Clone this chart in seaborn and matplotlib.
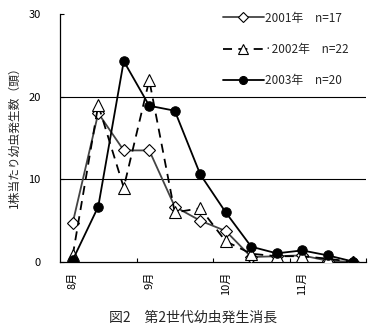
import matplotlib
matplotlib.use("Agg")
import matplotlib.pyplot as plt
import seaborn as sns
import numpy as np
import pandas as pd

# Survey dates: 12 observations (roughly every ten days from early August)
obs = list(range(12))
month_labels = ["8月", "9月", "10月", "11月"]
month_label_pos = [0, 3, 6, 9]

y2001 = [4.75, 18.0, 13.5, 13.5, 6.7, 5.0, 3.75, 0.6, 0.7, 0.8, 0.15, 0.0]
y2002 = [0.8, 19.0, 9.0, 22.0, 6.0, 6.5, 2.5, 1.0, 0.7, 0.7, 0.4, 0.0]
y2003 = [0.25, 6.7, 24.3, 18.9, 18.3, 10.6, 6.0, 1.85, 1.05, 1.4, 0.8, 0.05]

series_labels = ["2001年\u3000n=17", "·2002年\u3000n=22", "2003年\u3000n=20"]

sns.set_theme(style="white")
plt.rcParams["font.family"] = ["Noto Sans CJK JP", "DejaVu Sans"]

fig = plt.figure(figsize=(3.77, 3.30), dpi=100)
ax = fig.add_axes([60 / 377, 1 - 262 / 330, 306 / 377, 248 / 330])

# horizontal reference lines
for g in (10, 20):
    ax.axhline(g, color="black", lw=0.8, zorder=0)

sns.lineplot(x=obs, y=y2001, ax=ax, color="#444444", lw=1.3,
             marker="D", markersize=6.3, markerfacecolor="white",
             markeredgecolor="black", markeredgewidth=0.8,
             label=series_labels[0], zorder=3)
sns.lineplot(x=obs, y=y2002, ax=ax, color="black", lw=1.3,
             linestyle=(0, (5, 3.5)),
             marker="^", markersize=8, markerfacecolor="white",
             markeredgecolor="black", markeredgewidth=0.8,
             label=series_labels[1], zorder=4)
sns.lineplot(x=obs, y=y2003, ax=ax, color="black", lw=1.3,
             marker="o", markersize=6.8, markerfacecolor="black",
             markeredgecolor="black",
             label=series_labels[2], zorder=5)

ax.set_xlim(-0.5, 11.5)
ax.set_ylim(0, 30)
ax.set_yticks([0, 10, 20, 30])
ax.set_yticklabels(["0", "10", "20", "30"], fontsize=8)
ax.tick_params(axis="y", direction="in", length=3, width=0.8, pad=14,
               left=True, colors="black")

ax.set_xticks(month_label_pos)
ax.set_xticklabels(month_labels, rotation=90, fontsize=8)
ax.tick_params(axis="x", which="major", length=0, pad=7, colors="black")
ax.set_xticks([2.5, 5.5, 8.5, 11.5], minor=True)
ax.tick_params(axis="x", which="minor", direction="in", length=3,
               width=0.8, bottom=True, colors="black")

for side in ("top", "right"):
    ax.spines[side].set_visible(False)
for side in ("left", "bottom"):
    ax.spines[side].set_color("black")
    ax.spines[side].set_linewidth(0.9)

ax.set_xlabel("")
ax.set_ylabel("")
fig.text(14 / 377, 1 - 134 / 330, "1株当たり幼虫発生数（頭）", rotation=90,
         ha="center", va="center", fontsize=8.5)

leg = ax.legend(loc="upper right", bbox_to_anchor=(0.975, 1.048), frameon=True,
                fontsize=8.5, handlelength=3.5, handletextpad=0.1,
                labelspacing=1.55, borderpad=0.3, markerscale=0.85,
                fancybox=False)
leg.get_frame().set_edgecolor("white")
leg.get_frame().set_facecolor("white")
leg.get_frame().set_alpha(1)

fig.text(193 / 377, 1 - 318 / 330, "図2\u3000第2世代幼虫発生消長",
         ha="center", va="center", fontsize=10)

fig.savefig("out.png", dpi=100, facecolor="white")
